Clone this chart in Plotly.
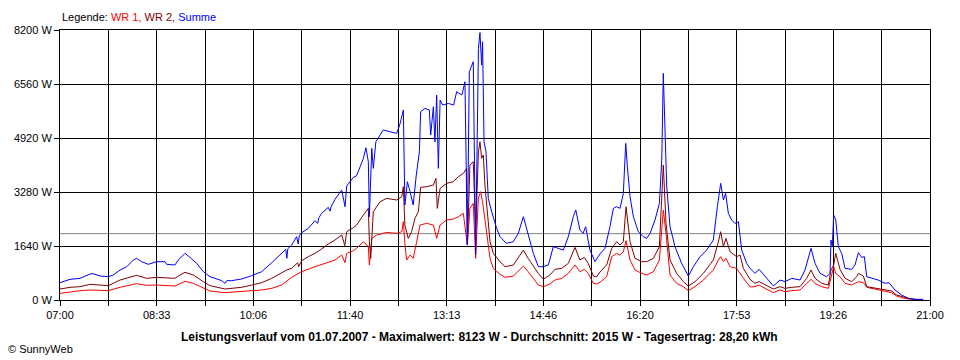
import plotly.graph_objects as go

# (minutes after 07:00, watts)
wr1 = [(0,202),(9.7,253),(19.3,283),(29,304),(46.7,283),(58,385),(74,496),(83.7,445),(93.3,455),(111,425),(120.7,567),(128.7,506),(138.4,354),(144.8,273),(159.3,223),(175.4,253),(185,273),(194.7,304),(204.4,354),(214,455),(223.7,688),(233.3,860),(246.2,1012),(259,1133),(265.5,1214),(272,1366),(275.2,1133),(276.8,1417),(283.2,1498),(286.4,1569),(292.9,1771),(297.7,1619),(298.7,1063),(301,1872),(305.7,1973),(315.4,2054),(325,2024),(330,2075),(331.5,2378),(333.1,1670),(334.7,1214),(338,1366),(341,1265),(344.4,1771),(347.6,2277),(354,2328),(360.5,2277),(363.7,1872),(366.9,2277),(373.3,2429),(379.8,2459),(384.6,2530),(389.4,2631),(393.3,1670),(395.8,2783),(399,2935),(401.3,1265),(403.9,3087),(406.1,3289),(408,2985),(410.3,2479),(412.6,1872),(415.2,1265),(418.4,961),(421.6,860),(424.8,779),(429.7,688),(437.7,729),(447.4,1032),(452,860),(461.8,455),(466.7,405),(473,486),(478,607),(484.4,658),(490.8,810),(497.2,1063),(502,860),(506.2,931),(510,810),(515,506),(518,486),(521.4,540),(527.8,708),(532.7,1316),(537.5,1417),(540.7,1366),(543.9,1467),(546.5,1800),(550.4,1214),(555.2,911),(561.6,810),(566.5,759),(572.9,860),(578.7,1214),(582.5,2733),(585.1,2024),(589,759),(595.4,506),(601.9,405),(606.7,283),(613.1,405),(621.2,607),(630.8,911),(635.7,1214),(637.9,1316),(640.5,1164),(643,1265),(646.9,1012),(653.3,961),(659.8,658),(666.2,400),(671,405),(675,455),(680.7,354),(688.8,223),(695.2,304),(700,253),(706.5,283),(714.5,304),(721,506),(725.1,627),(729,506),(735.4,405),(741.9,354),(744.4,729),(747,1012),(749,810),(753.1,708),(758,506),(764.4,455),(770.8,557),(775.6,526),(778.9,385),(786.9,324),(796.6,253),(803,223),(807.8,121),(812.6,71),(819,30),(825.5,10),(833,0)]

wr2 = [(0,334),(9.7,385),(19.3,405),(29,476),(38.6,455),(46.7,435),(58,607),(74,749),(83.7,658),(93.3,688),(111,658),(114.2,729),(120.7,840),(128.7,759),(138.4,557),(144.8,435),(159.3,334),(175.4,385),(185,455),(194.7,526),(204.4,658),(214,830),(218.8,911),(223.7,961),(229.5,1133),(230.5,1012),(233.3,1194),(239.8,1316),(246.2,1417),(252.6,1548),(259,1700),(265.5,1822),(272,1973),(275,1650),(276.8,2075),(283.2,2196),(286.4,2277),(292.9,2581),(297.7,2783),(298.7,1771),(300,1265),(302.5,2682),(309,2985),(315.4,3087),(325,3036),(330,3137),(331.5,3441),(333,2277),(336.3,1872),(339.5,2075),(342.7,2479),(346,2682),(348.2,3421),(354,3441),(360.5,3491),(363,3694),(364.3,2783),(367,3390),(373.3,3542),(379.8,3593),(384.6,3744),(389.4,3846),(392.6,3997),(393.3,1670),(395.8,4099),(399,4200),(401.3,2075),(404,4503),(405.5,4807),(407.1,4301),(408.7,4402),(410.3,3491),(412.6,2581),(415.2,1771),(418.4,1417),(424.8,1164),(429.7,1012),(437.7,1063),(447.4,1518),(452,1265),(461.8,810),(466.7,627),(473,759),(478,931),(484.4,961),(490.8,1113),(497.2,1599),(502,1214),(506.2,1295),(510,1113),(515,729),(518,700),(521.4,850),(527.8,1063),(532.7,1569),(537.5,1771),(540.7,1670),(543.9,1771),(546.5,2834),(550.4,1771),(555.2,1265),(561.6,1164),(566.5,1164),(572.9,1265),(578.7,1619),(582.5,4099),(585.1,2328),(589,1214),(595.4,810),(601.9,557),(606.7,425),(613.1,557),(621.2,810),(630.8,1214),(635.7,1771),(637.9,2075),(640.5,1619),(643,1872),(646.9,1467),(653.3,1316),(656.6,1366),(659.8,961),(666.2,630),(671,506),(675,557),(680.7,455),(688.8,334),(695.2,405),(700,354),(706.5,385),(714.5,405),(721,658),(725.1,911),(729,658),(735.4,506),(741.9,455),(744.4,911),(747,1063),(749,1417),(753.1,931),(758,658),(764.4,557),(769.2,708),(770.8,810),(775.6,729),(778.9,405),(786.9,354),(796.6,304),(803,273),(807.8,152),(812.6,101),(819,51),(825.5,20),(833,0)]

summe = [(0,526),(9.7,627),(19.3,658),(29,789),(32,800),(38.6,729),(46.7,708),(51.5,759),(58,911),(64.4,1012),(70.8,1214),(74,1265),(78.8,1164),(85.3,1083),(93.3,1164),(101.4,1164),(103,1083),(111,1063),(114.2,1214),(120.7,1417),(125.5,1295),(132,1113),(138.4,860),(144.8,708),(149.7,658),(156,587),(159.3,506),(161,587),(165.7,587),(175.4,638),(185,739),(194.7,860),(204.4,1133),(214,1417),(218,1538),(219,1265),(220,1560),(223.7,1670),(228.5,1923),(230,1700),(231,1950),(233.3,2044),(239.8,2176),(246.2,2409),(248.8,2328),(250,2500),(252.6,2631),(259,2813),(260.7,2700),(262,2850),(265.5,3056),(272,3340),(275.2,2834),(276.8,3461),(283.2,3724),(286.4,3775),(292.9,4301),(295.4,4625),(297.7,4200),(298.7,2530),(301,4605),(302.5,3997),(305,4807),(309,5009),(312,5161),(318.6,5111),(325,5060),(328,5313),(331.5,5768),(333,2884),(335.4,3593),(338,3289),(341,2884),(344,3795),(347,4503),(348.2,5718),(352.4,5819),(356.6,5768),(357.9,5009),(360.5,5869),(362,4807),(363.7,6224),(365.3,3997),(367,6072),(369.5,5920),(375,5970),(380,5920),(383,6325),(388,6224),(391,6628),(393.3,1670),(395.2,6932),(399,7236),(401.3,1366),(404,7641),(405.5,8123),(407.1,7135),(408,7843),(409.4,4807),(411.3,4503),(413.5,3087),(416.8,2682),(421.6,2176),(424.8,1923),(431,1720),(437.7,1771),(442.5,2024),(447.4,2530),(452,2024),(457,1417),(461.8,1012),(466.7,1012),(471.5,1063),(476.3,1619),(481,1569),(486,1518),(490.8,1923),(495.6,2530),(498,2733),(502,2125),(505,2024),(507.5,2226),(511.7,1518),(516.5,1164),(521.4,1400),(526.2,1569),(531,2226),(534.3,2783),(537.5,2834),(540.7,2783),(543.9,3238),(546.2,4756),(547.8,4048),(550.4,3137),(553.6,2530),(558.4,2075),(563.2,1923),(566.5,1872),(569.7,2024),(574.5,2429),(578.7,2935),(581,4250),(582.5,6882),(584,5465),(585.8,3441),(589,2226),(593.8,1619),(600.2,1113),(606.7,729),(611.5,1012),(618,1316),(624.4,1518),(630.8,1822),(634.7,2834),(637.9,3542),(640.5,3036),(642.7,3238),(645.3,2631),(648.5,2429),(651.7,2328),(655,2378),(658.2,1518),(663,1113),(666.2,960),(671,810),(675,931),(680.7,708),(688.8,425),(695.2,607),(700,557),(706.5,658),(714.5,607),(719.3,911),(722.5,1316),(725.1,1569),(729,1113),(733.8,810),(740.2,708),(743.5,810),(744.4,1822),(745.7,1619),(747,2581),(749,2429),(751.5,1619),(754.7,1417),(758,961),(764.4,931),(767.6,1063),(770.8,1437),(774,1295),(776.6,1316),(778.9,708),(783.7,658),(790,607),(796.6,506),(800.4,526),(806.2,304),(812.6,152),(819,51),(825.5,20),(833.6,20)]

average_w = 2015
x_tick_labels = ["07:00", "", "08:33", "", "10:06", "", "11:40", "", "13:13", "",
                 "14:46", "", "16:20", "", "17:53", "", "19:26", "", "21:00"]
y_tick_values = [0, 1640, 3280, 4920, 6560, 8200]
y_tick_labels = ["0 W", "1640 W", "3280 W", "4920 W", "6560 W", "8200 W"]
title_text = ("Leistungsverlauf vom 01.07.2007 - Maximalwert: 8123 W - "
              "Durchschnitt: 2015 W - Tagesertrag: 28,20 kWh")

FONT = "Liberation Sans, Arial, sans-serif"
total_min = 840
x_tick_vals = [i * total_min / (len(x_tick_labels) - 1) for i in range(len(x_tick_labels))]

fig = go.Figure()
for data, color, name in [(wr1, "#ff0000", "WR 1"), (wr2, "#800000", "WR 2"), (summe, "#0000ff", "Summe")]:
    fig.add_trace(go.Scatter(x=[p[0] for p in data], y=[p[1] for p in data], mode="lines",
                             line=dict(color=color, width=1), name=name, hoverinfo="skip"))

fig.add_shape(type="line", xref="paper", x0=0, x1=1, yref="y", y0=average_w, y1=average_w,
              line=dict(color="#808080", width=1), layer="below")

fig.update_layout(
    width=960, height=360,
    margin=dict(l=60, r=30, t=30, b=60),
    paper_bgcolor="white", plot_bgcolor="white",
    showlegend=False,
    font=dict(family=FONT, size=11, color="black"),
    xaxis=dict(range=[0, total_min], tickmode="array", tickvals=x_tick_vals, ticktext=x_tick_labels,
               showgrid=True, gridcolor="black", gridwidth=1, zeroline=False,
               showline=True, linecolor="black", linewidth=1, mirror=True,
               ticks="outside", ticklen=5, tickcolor="black", tickwidth=1,
               tickfont=dict(family=FONT, size=11, color="black")),
    yaxis=dict(range=[0, 8200], tickmode="array", tickvals=y_tick_values, ticktext=y_tick_labels,
               showgrid=True, gridcolor="black", gridwidth=1, zeroline=False,
               showline=True, linecolor="black", linewidth=1, mirror=True,
               ticks="outside", ticklen=5, tickcolor="black", tickwidth=1,
               tickfont=dict(family=FONT, size=11, color="black")),
)

fig.add_annotation(xref="paper", yref="paper", x=0.0, y=1.049, xanchor="left", yanchor="middle",
                   showarrow=False, font=dict(family=FONT, size=11),
                   text='<span style="color:black">Legende: </span>'
                        '<span style="color:#ff0000">WR 1, </span>'
                        '<span style="color:#800000">WR 2, </span>'
                        '<span style="color:#0000ff">Summe</span>')
fig.add_annotation(xref="paper", yref="paper", x=0.482, y=-0.137, xanchor="center", yanchor="middle",
                   showarrow=False, font=dict(family=FONT, size=12, color="black"),
                   text="<b>" + title_text + "</b>")
fig.add_annotation(xref="paper", yref="paper", x=-0.062, y=-0.180, xanchor="left", yanchor="middle",
                   showarrow=False, font=dict(family=FONT, size=11, color="black"),
                   text="© SunnyWeb")

fig.write_html("out.html", config={"displayModeBar": False},
               post_script="document.body.style.margin='0';document.body.style.overflow='hidden';")
